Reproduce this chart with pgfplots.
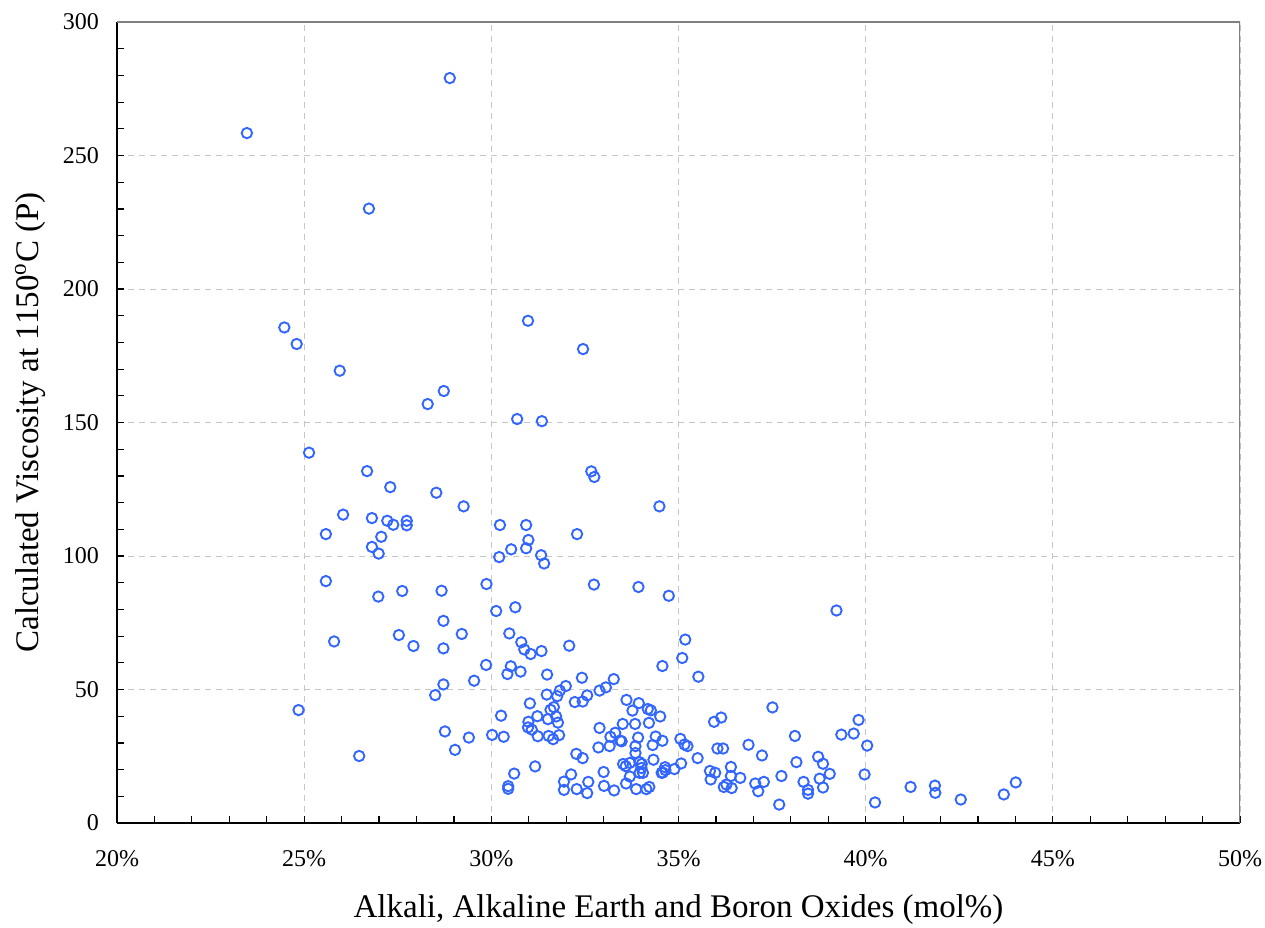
\documentclass[border=0pt]{standalone}
\usepackage{fontspec}
\setmainfont{Liberation Serif}
\usepackage{pgfplots}
\pgfplotsset{compat=1.18}
\definecolor{ptblue}{RGB}{51,102,255}
\begin{document}
\begin{tikzpicture}
\begin{axis}[name=ax, scale only axis, width=561.5pt, height=400.5pt,
  xmin=20, xmax=50, ymin=0, ymax=300,
  xtick={20,25,...,50}, xticklabels={20\%,25\%,30\%,35\%,40\%,45\%,50\%},
  ytick={0,50,...,300},
  minor x tick num=4, minor y tick num=4,
  axis lines*=left, tick align=inside,
  major tick length=3.5pt, minor tick length=3.5pt,
  tick style={black, line width=0.6pt},
  axis line style={black, line width=1pt},
  grid=major, major grid style={gray!45, dash pattern=on 3pt off 2.5pt, line width=0.5pt},
  tick label style={font=\fontsize{12}{14}\selectfont},
  /pgf/number format/assume math mode=true,
  xticklabel style={yshift=-10pt}, yticklabel style={xshift=-5.5pt},
  xlabel={Alkali, Alkaline Earth and Boron Oxides (mol\%)},
  ylabel={Calculated Viscosity at 1150\textsuperscript{o}C (P)},
  label style={font=\fontsize{16.5}{19}\selectfont},
  xlabel style={at={(axis description cs:0.5,-0.0886)}, anchor=north, inner sep=0pt},
  ylabel style={at={(axis description cs:-0.0632,0.5)}, anchor=south, inner sep=0pt},
]
\draw[gray, line width=0.6pt] (rel axis cs:0,1) -- (rel axis cs:1,1) -- (rel axis cs:1,0);
\addplot[only marks, mark=o, mark size=2.6pt, mark options={ptblue, line width=0.95pt}] table {
x y
23.47 258.4
28.89 279.0
26.73 230.1
24.47 185.6
24.80 179.4
25.95 169.4
28.30 156.9
28.73 161.8
30.98 188.1
32.45 177.5
30.69 151.3
31.35 150.5
25.13 138.7
26.68 131.8
27.30 125.8
28.53 123.7
29.26 118.6
32.67 131.7
32.75 129.6
26.04 115.5
26.81 114.2
27.22 113.2
27.38 111.7
27.74 113.2
27.74 111.5
30.23 111.6
30.93 111.6
25.58 108.2
27.06 107.2
26.81 103.4
26.99 100.9
30.99 106.0
30.93 102.9
30.53 102.5
30.21 99.6
31.33 100.3
32.29 108.2
31.41 97.2
34.49 118.6
32.74 89.3
33.93 88.4
34.74 85.1
35.18 68.7
29.87 89.5
25.58 90.6
26.98 84.8
27.62 86.9
28.67 87.0
30.13 79.4
30.64 80.8
28.72 75.7
25.80 68.0
27.53 70.4
27.92 66.3
29.21 70.8
28.72 65.4
30.48 71.0
30.80 67.7
29.86 59.2
30.52 58.7
30.43 55.8
30.78 56.7
29.54 53.3
28.72 51.9
28.50 47.9
24.85 42.3
30.26 40.2
28.76 34.3
29.40 32.0
30.02 33.0
30.33 32.3
29.03 27.4
26.47 25.1
30.61 18.5
30.45 13.8
30.45 12.8
32.08 66.4
30.88 65.0
31.05 63.3
31.34 64.4
31.49 55.6
34.57 58.8
35.10 61.8
35.53 54.8
32.42 54.4
33.27 53.9
33.06 50.8
32.89 49.6
31.99 51.3
31.83 49.6
31.76 47.5
31.48 48.1
32.23 45.3
32.44 45.5
32.56 47.8
33.61 46.1
33.94 44.9
34.18 42.7
34.26 42.2
33.77 42.1
34.51 39.9
31.03 44.8
31.67 43.4
31.58 42.4
31.23 40.0
31.51 38.9
31.73 39.9
31.78 37.6
30.99 37.9
30.98 35.8
31.08 35.0
31.24 32.5
31.53 32.6
31.65 31.4
31.81 32.9
33.51 37.1
33.84 37.1
34.21 37.5
32.89 35.6
33.18 32.3
33.31 33.8
33.44 30.9
33.48 30.6
33.92 32.0
34.39 32.4
34.57 30.8
34.31 29.2
32.86 28.3
33.16 28.8
33.85 28.8
33.85 26.2
32.27 25.9
32.44 24.3
31.17 21.2
31.94 15.5
31.94 12.4
32.13 18.2
32.28 12.7
32.59 15.4
32.56 11.2
33.00 19.1
33.01 13.9
33.28 12.2
33.52 22.1
33.59 21.3
33.70 22.5
33.96 22.8
34.02 22.1
34.01 20.6
33.70 17.4
33.96 18.8
34.05 18.8
33.60 14.8
33.87 12.7
34.14 12.7
34.22 13.5
34.33 23.7
34.55 18.8
34.64 20.9
34.65 19.8
34.58 18.9
34.89 20.2
35.07 22.3
35.05 31.5
35.16 29.4
35.24 28.8
35.51 24.3
35.84 19.5
35.98 18.8
35.86 16.3
35.95 37.9
36.14 39.5
36.04 27.9
36.19 27.9
36.21 13.5
36.28 14.4
39.22 79.6
37.51 43.3
39.81 38.6
39.35 33.1
39.68 33.5
38.11 32.6
40.04 29.0
36.87 29.3
37.23 25.3
36.40 21.0
36.40 17.6
36.65 16.9
36.42 13.1
37.05 14.8
37.13 11.9
37.28 15.4
37.75 17.6
37.69 6.9
38.15 22.8
38.34 15.4
38.46 12.4
38.46 11.0
38.73 24.8
38.86 22.2
38.77 16.6
39.04 18.4
38.86 13.3
39.97 18.2
40.25 7.7
41.20 13.5
41.85 14.0
41.86 11.3
42.54 8.8
43.69 10.7
44.01 15.2
};
\end{axis}
\pgfresetboundingbox
\path[use as bounding box] ([shift={(-58.5pt,-52pt)}]ax.south west) rectangle ([shift={(12.5pt,11pt)}]ax.north east);
\end{tikzpicture}
\end{document}
